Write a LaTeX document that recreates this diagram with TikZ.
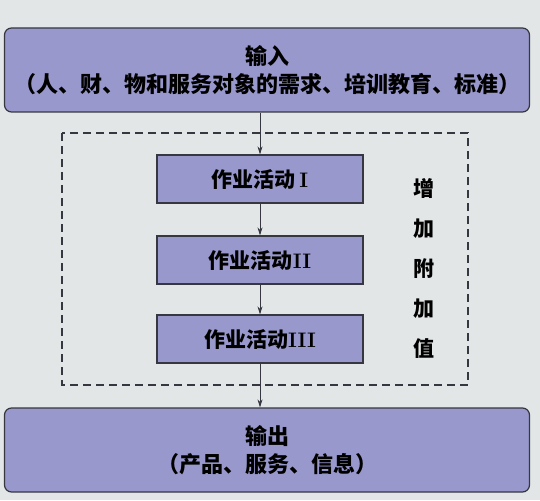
\documentclass[tikz,border=0pt]{standalone}
\usepackage{fontspec}
\newfontfamily\cjk{Noto Sans CJK SC}
\usetikzlibrary{arrows.meta}
\definecolor{boxfill}{RGB}{152,152,204}
\definecolor{paper}{RGB}{226,230,230}
\definecolor{edge}{RGB}{55,55,65}

\begin{document}
\begin{tikzpicture}[x=1pt,y=-1pt,
		bigbox/.style={draw=edge, line width=1.2pt, fill=boxfill, rounded corners=7pt,
			minimum width=525pt, minimum height=84pt, align=center,
			font=\cjk\bfseries\fontsize{22}{28}\selectfont},
		workbox/.style={draw=edge, line width=1.2pt, fill=boxfill,
			minimum width=206pt, minimum height=48pt,
			font=\cjk\bfseries\fontsize{21}{24}\selectfont},
		flow/.style={draw=edge, line width=0.8pt, -{Stealth[length=8pt,width=5pt]}}]
		%%%%% START %%%%%
		
		\fill[paper] (0, 0) rectangle (540, 500);
		\useasboundingbox (0, 0) rectangle (540, 500);
		
		\node[bigbox] (input) at (267, 70) {输入\\（人、财、物和服务对象的需求、培训教育、标准）};
		
		\draw[edge, line width=1.2pt, dash pattern=on 8pt off 5pt] (62, 133) rectangle (468, 385);
		
		\node[workbox] (act1) at (260, 179) {作业活动\,{\rmfamily I}};
		\node[workbox] (act2) at (260, 260) {作业活动{\rmfamily II}};
		\node[workbox] (act3) at (260, 339) {作业活动{\rmfamily III}};
		
		\node[align=center, font=\cjk\bfseries\fontsize{21}{40}\selectfont] (value) at (424, 268) {增\\加\\附\\加\\值};
		
		\node[bigbox] (output) at (267, 450) {输出\\（产品、服务、信息）};
		
		\draw[flow] (input.south -| act1.north) -- (act1.north);
		\draw[flow] (act1.south) -- (act2.north);
		\draw[flow] (act2.south) -- (act3.north);
		\draw[flow] (act3.south) -- (act3.south |- output.north);
		
		%%%%% END %%%%%
	\end{tikzpicture}
\end{document}
